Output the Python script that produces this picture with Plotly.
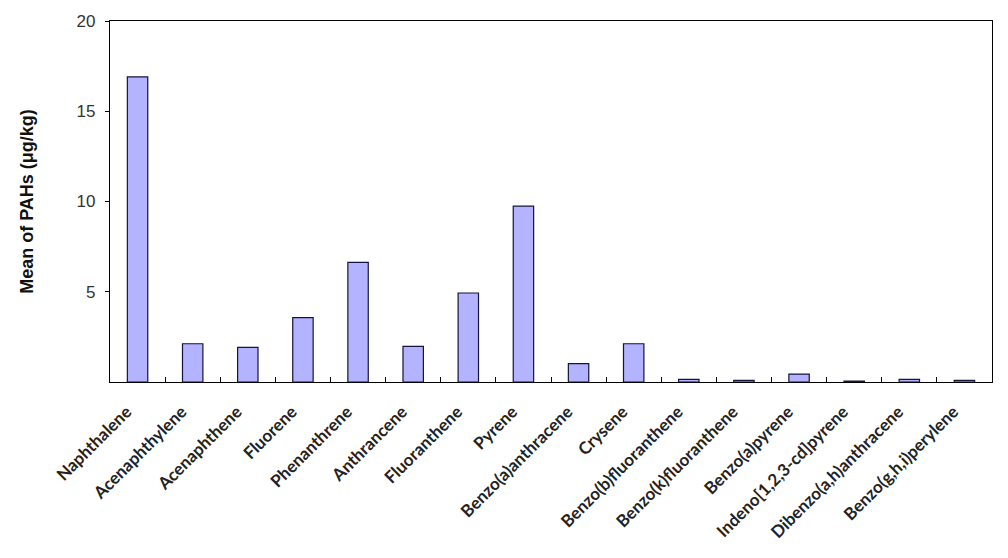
import plotly.graph_objects as go

compounds = ["Naphthalene", "Acenaphthylene", "Acenaphthene", "Fluorene", "Phenanthrene",
             "Anthrancene", "Fluoranthene", "Pyrene", "Benzo(a)anthracene", "Crysene",
             "Benzo(b)fluoranthene", "Benzo(k)fluoranthene", "Benzo(a)pyrene",
             "Indeno[1,2,3-cd]pyrene", "Dibenzo(a,h)anthracene", "Benzo(g,h,i)perylene"]
means = [16.9, 2.12, 1.92, 3.57, 6.63, 1.97, 4.93, 9.74, 1.02, 2.12,
         0.15, 0.09, 0.44, 0.05, 0.15, 0.09]
y_ticks = [5, 10, 15, 20]

fig = go.Figure(go.Bar(
    x=compounds, y=means,
    marker=dict(color="#b3b3ff", line=dict(color="#14143c", width=1.2)),
))

fig.update_layout(
    width=1008, height=558,
    margin=dict(l=110, r=16, t=17, b=176),
    plot_bgcolor="white", paper_bgcolor="white",
    bargap=0.63, showlegend=False,
    xaxis=dict(
        type="category", tickangle=-45, tickson="boundaries",
        ticks="inside", ticklen=5, tickcolor="#000", tickwidth=1,
        showline=True, linecolor="#000", linewidth=1.2, mirror=True,
        tickfont=dict(family="Lato", size=17, color="#222", weight="bold"),
        ticklabelstandoff=12, ticklabelshift=-11,
        showgrid=False,
    ),
    yaxis=dict(
        range=[0, 20], tickvals=y_ticks, ticks="outside", ticklen=4,
        tickcolor="#000", showline=True, linecolor="#000", linewidth=1.2, mirror=True,
        showgrid=False, zeroline=False,
        tickfont=dict(family="Arial", size=17, color="#333"),
        ticklabelstandoff=6,
        title=dict(text="Mean of PAHs (μg/kg)", standoff=38,
                   font=dict(family="Arial", size=18, color="#111", weight="bold")),
    ),
)

fig.write_html("out.html")
